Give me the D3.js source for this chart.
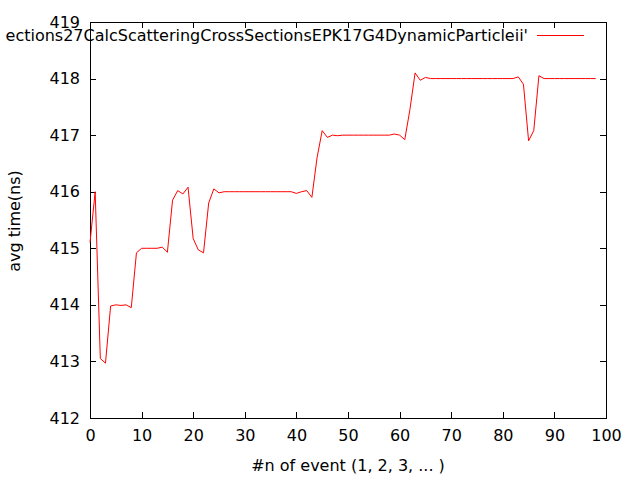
<!DOCTYPE html>
<html>
<head>
<meta charset="utf-8">
<script src="https://cdn.jsdelivr.net/npm/d3@7"></script>
<style>
  html, body { margin: 0; padding: 0; background: #fff; }
  svg { display: block; }
  text { font-family: "DejaVu Sans", sans-serif; font-size: 16px; fill: #000; }
</style>
</head>
<body>
<svg id="chart" width="640" height="480"></svg>
<script>
// ---- data ----
const seriesName = "ections27CalcScatteringCrossSectionsEPK17G4DynamicParticleii'";
const xTicks = [0, 10, 20, 30, 40, 50, 60, 70, 80, 90, 100];
const yTicks = [412, 413, 414, 415, 416, 417, 418, 419];
const avgTime = [
  415.1, 416.0, 413.05, 412.97, 413.98, 414.0, 413.99, 414.0, 413.95, 414.92,
  415.0, 415.0, 415.0, 415.0, 415.02, 414.93, 415.85, 416.02, 415.96, 416.08,
  415.17, 414.97, 414.92, 415.8, 416.05, 415.98, 416.0, 416.0, 416.0, 416.0,
  416.0, 416.0, 416.0, 416.0, 416.0, 416.0, 416.0, 416.0, 416.0, 416.0,
  415.97, 416.0, 416.02, 415.9, 416.6, 417.08, 416.96, 417.0, 416.99, 417.0,
  417.0, 417.0, 417.0, 417.0, 417.0, 417.0, 417.0, 417.0, 417.0, 417.02,
  417.0, 416.92, 417.45, 418.1, 417.97, 418.02, 418.0, 418.0, 418.0, 418.0,
  418.0, 418.0, 418.0, 418.0, 418.0, 418.0, 418.0, 418.0, 418.0, 418.0,
  418.0, 418.0, 418.0, 418.03, 417.9, 416.9, 417.08, 418.05, 418.0, 418.0,
  418.0, 418.0, 418.0, 418.0, 418.0, 418.0, 418.0, 418.0, 418.0
];
const eventIndex = avgTime.map((_, i) => i);

// ---- layout ----
const svg = d3.select("#chart");
const L = 90, R = 606, T = 22, B = 418;
const x = d3.scaleLinear().domain([0, 100]).range([L, R]);
const y = d3.scaleLinear().domain([412, 419]).range([B, T]);
const tick = 6;

// frame
svg.append("rect").attr("x", L + 0.5).attr("y", T + 0.5).attr("width", R - L).attr("height", B - T)
  .attr("fill", "none").attr("stroke", "#000").attr("stroke-width", 1).attr("shape-rendering", "crispEdges");

// axes (gnuplot style: inward ticks, mirrored)
const fmt = d3.format("d");
const xAxisB = d3.axisBottom(x).tickValues(xTicks).tickFormat(fmt).tickSizeInner(-tick).tickSizeOuter(0).tickPadding(12);
const xAxisT = d3.axisTop(x).tickValues(xTicks).tickSizeInner(-tick).tickSizeOuter(0).tickFormat("");
const yAxisL = d3.axisLeft(y).tickValues(yTicks).tickFormat(fmt).tickSizeInner(-tick).tickSizeOuter(0).tickPadding(10);
const yAxisR = d3.axisRight(y).tickValues(yTicks).tickSizeInner(-tick).tickSizeOuter(0).tickFormat("");

function style(g) {
  g.select(".domain").remove();
  g.selectAll(".tick line").attr("stroke", "#000").attr("shape-rendering", "crispEdges");
  g.selectAll(".tick text").attr("font-family", "DejaVu Sans, sans-serif").attr("font-size", 16).attr("fill", "#000");
}
svg.append("g").attr("transform", `translate(0,${B})`).call(xAxisB).call(style);
svg.append("g").attr("transform", `translate(0,${T})`).call(xAxisT).call(style);
svg.append("g").attr("transform", `translate(${L},0)`).call(yAxisL).call(style);
svg.append("g").attr("transform", `translate(${R},0)`).call(yAxisR).call(style);

// line
const line = d3.line().x((d, i) => x(eventIndex[i])).y(d => y(d));
svg.append("path").datum(avgTime).attr("d", line)
  .attr("fill", "none").attr("stroke", "#ff0000").attr("stroke-width", 1);

// labels
svg.append("text").attr("x", 348).attr("y", 471).attr("text-anchor", "middle")
  .text("#n of event (1, 2, 3, ... )");
svg.append("text").attr("transform", "translate(20,221) rotate(-90)").attr("text-anchor", "middle")
  .text("avg time(ns)");

// key
svg.append("text").attr("x", 528).attr("y", 41).attr("text-anchor", "end").text(seriesName);
svg.append("line").attr("x1", 537).attr("x2", 584).attr("y1", 35.5).attr("y2", 35.5)
  .attr("stroke", "#ff0000").attr("stroke-width", 1);
</script>
</body>
</html>
